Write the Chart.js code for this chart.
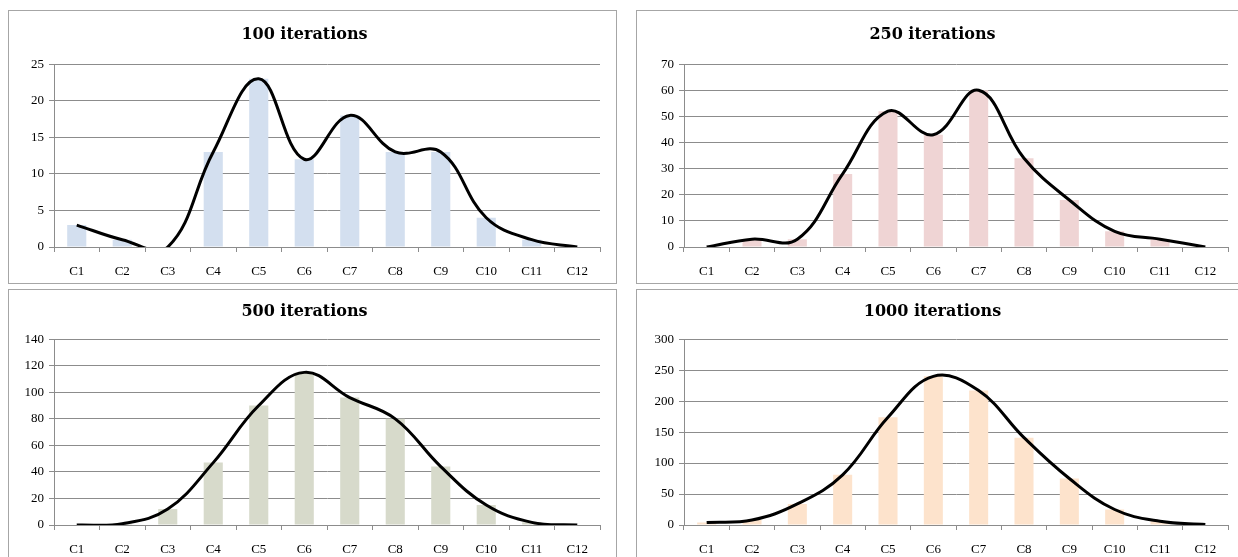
<!DOCTYPE html>
<html><head><meta charset="utf-8">
<script src="https://cdn.jsdelivr.net/npm/chart.js@4.4.1/dist/chart.umd.min.js"></script>
<style>
body{margin:0;background:#fff;width:1238px;height:557px;overflow:hidden;position:relative}
.panel{position:absolute;border:1px solid #a6a6a6;background:#fff;box-sizing:border-box;width:609px;height:274px}
.panel canvas{position:absolute;left:0;top:0}
</style></head><body>
<div class="panel" style="left:8px;top:10px"><canvas id="c1" width="607" height="272"></canvas></div>
<div class="panel" style="left:636px;top:10px"><canvas id="c2" width="607" height="272"></canvas></div>
<div class="panel" style="left:8px;top:289px"><canvas id="c3" width="607" height="272"></canvas></div>
<div class="panel" style="left:636px;top:289px"><canvas id="c4" width="607" height="272"></canvas></div>
<script>
const categories = ['C1','C2','C3','C4','C5','C6','C7','C8','C9','C10','C11','C12'];
const iter100  = [3, 1, 0, 13, 23, 12, 18, 13, 13, 4, 1, 0];
const iter250  = [0, 3, 3, 28, 52, 43, 60, 34, 18, 6, 3, 0];
const iter500  = [0, 1, 12, 47, 90, 115, 96, 80, 44, 15, 2, 0];
const iter1000 = [4, 8, 34, 81, 174, 240, 217, 141, 75, 25, 6, 1];
const titles = ['100 iterations', '250 iterations', '500 iterations', '1000 iterations'];
const yMax = [25, 70, 140, 300];
const yStep = [5, 10, 20, 50];

const panels = [
  {id:'c1', data: iter100,  color:'#d3dfef', yW:45, tTop:14, tBot:20, xH:36},
  {id:'c2', data: iter250,  color:'#efd4d4', yW:47, tTop:14, tBot:20, xH:36},
  {id:'c3', data: iter500,  color:'#d7dacb', yW:45, tTop:12, tBot:18, xH:37},
  {id:'c4', data: iter1000, color:'#fde3cc', yW:47, tTop:12, tBot:18, xH:37}
];
const TITLE_FONT = "'DejaVu Serif', 'Liberation Serif', serif";
const TICK_FONT = "'Liberation Serif', 'DejaVu Serif', serif";
const GRID = '#8c8c8c';

panels.forEach((p, i) => {
  new Chart(document.getElementById(p.id), {
    data: {
      labels: categories,
      datasets: [
        {type:'line', data:p.data, borderColor:'#000', borderWidth:3, tension:0.4,
         capBezierPoints:false, pointRadius:0, fill:false, order:0},
        {type:'bar', data:p.data, backgroundColor:p.color, borderWidth:0,
         categoryPercentage:1, barPercentage:0.42, order:1}
      ]
    },
    options: {
      responsive:false, animation:false, devicePixelRatio:1,
      layout:{padding:{left:0, right:16, top:0, bottom:0}},
      elements:{line:{capBezierPoints:false}},
      plugins:{
        legend:{display:false}, tooltip:{enabled:false},
        title:{display:true, text:titles[i], color:'#000',
          font:{family:TITLE_FONT, size:16, weight:'bold', lineHeight:1.2},
          padding:{top:p.tTop, bottom:p.tBot}}
      },
      scales:{
        x:{offset:true,
          grid:{offset:true, drawOnChartArea:false, drawTicks:true, tickLength:5, color:GRID},
          border:{color:GRID, width:1},
          ticks:{color:'#000', font:{family:TICK_FONT, size:13}, padding:12, maxRotation:0, autoSkip:false},
          afterFit:(s)=>{s.height = p.xH;}
        },
        y:{min:0, max:yMax[i],
          grid:{color:GRID, drawTicks:true, tickLength:5},
          border:{color:GRID, width:1},
          ticks:{stepSize:yStep[i], color:'#000', font:{family:TICK_FONT, size:13}, padding:5},
          afterFit:(s)=>{s.width = p.yW;}
        }
      }
    }
  });
});
</script>
</body></html>
